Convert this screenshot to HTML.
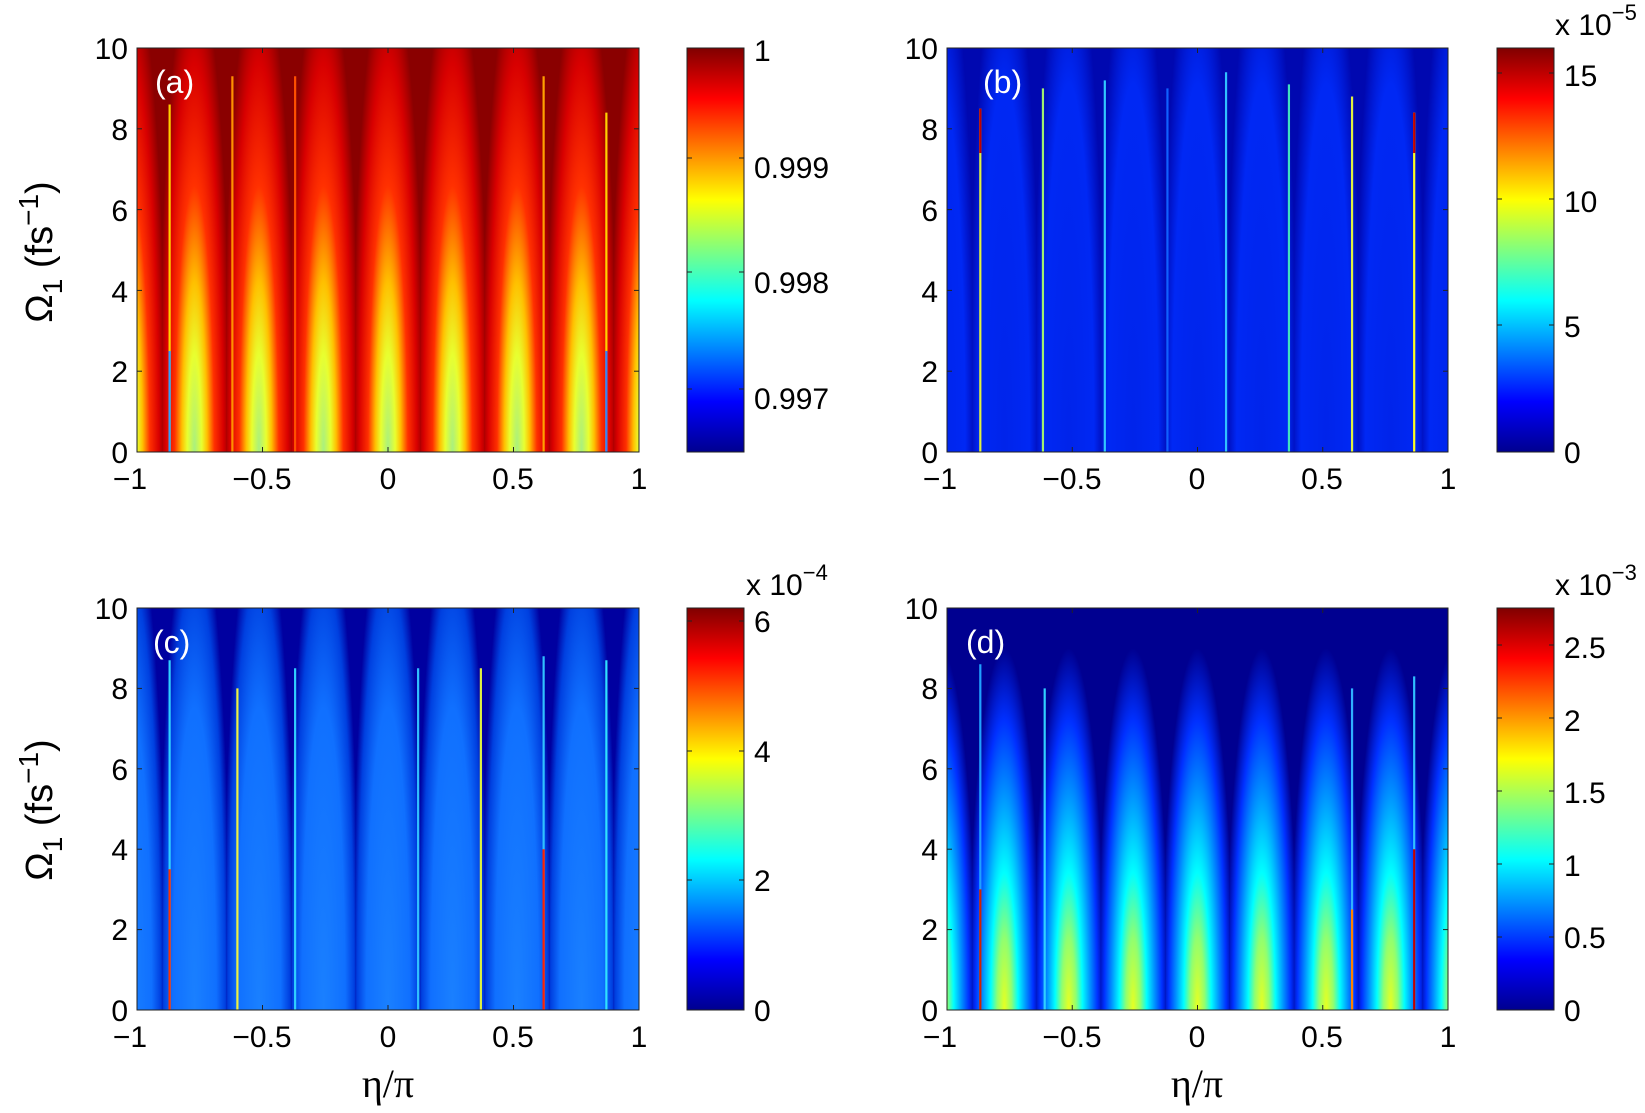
<!DOCTYPE html>
<html><head><meta charset="utf-8"><style>
html,body{margin:0;padding:0;background:#fff}
svg text{font-family:"Liberation Sans",sans-serif;fill:#000}
</style></head><body>
<svg id="s" xmlns="http://www.w3.org/2000/svg" width="1645" height="1108" viewBox="0 0 1645 1108">
<defs>
<linearGradient id="jet" x1="0" y1="1" x2="0" y2="0">
<stop offset="0" stop-color="#00008f"/><stop offset="0.125" stop-color="#0000ff"/>
<stop offset="0.375" stop-color="#00ffff"/><stop offset="0.625" stop-color="#ffff00"/>
<stop offset="0.875" stop-color="#ff0000"/><stop offset="1" stop-color="#800000"/>
</linearGradient>
<radialGradient id="ga" cx="0.5" cy="1" r="1" gradientTransform="translate(0.5,1) scale(0.56,1.2) translate(-0.5,-1)">
<stop offset="0" stop-color="#a8f080"/><stop offset="0.2" stop-color="#e8ff30"/><stop offset="0.35" stop-color="#ffc000"/>
<stop offset="0.55" stop-color="#ff3000"/><stop offset="0.8" stop-color="#d80000"/><stop offset="1" stop-color="#8a0000"/>
</radialGradient>
<radialGradient id="gb" cx="0.5" cy="1" r="1" gradientTransform="translate(0.5,1) scale(0.56,1.3) translate(-0.5,-1)">
<stop offset="0" stop-color="#0024ea"/><stop offset="0.7" stop-color="#0028f4"/><stop offset="1" stop-color="#0008b0"/>
</radialGradient>
<radialGradient id="gc" cx="0.5" cy="1" r="1" gradientTransform="translate(0.5,1) scale(0.56,1.25) translate(-0.5,-1)">
<stop offset="0" stop-color="#1a80ff"/><stop offset="0.6" stop-color="#1070ff"/><stop offset="0.85" stop-color="#0040e0"/><stop offset="1" stop-color="#0000a0"/>
</radialGradient>
<radialGradient id="gd" cx="0.5" cy="1" r="1" gradientTransform="translate(0.5,1) scale(0.56,0.9) translate(-0.5,-1)">
<stop offset="0" stop-color="#e8ff20"/><stop offset="0.2" stop-color="#90ff70"/><stop offset="0.38" stop-color="#00ffff"/>
<stop offset="0.6" stop-color="#0090ff"/><stop offset="0.8" stop-color="#0030ff"/><stop offset="1" stop-color="#000090"/>
</radialGradient>
<clipPath id="ca"><rect x="137" y="48" width="502" height="404"/></clipPath>
<clipPath id="cb"><rect x="947" y="48" width="501" height="404"/></clipPath>
<clipPath id="cc"><rect x="137" y="608" width="502" height="402"/></clipPath>
<clipPath id="cd"><rect x="947" y="608" width="501" height="402"/></clipPath>
</defs>
<g id="plots"></g>
<g font-size="30" text-anchor="end">
<text x="128" y="59">10</text><text x="128" y="140">8</text><text x="128" y="221">6</text><text x="128" y="302">4</text><text x="128" y="382">2</text><text x="128" y="463">0</text>
<text x="938" y="59">10</text><text x="938" y="140">8</text><text x="938" y="221">6</text><text x="938" y="302">4</text><text x="938" y="382">2</text><text x="938" y="463">0</text>
<text x="128" y="619">10</text><text x="128" y="699">8</text><text x="128" y="780">6</text><text x="128" y="860">4</text><text x="128" y="940">2</text><text x="128" y="1021">0</text>
<text x="938" y="619">10</text><text x="938" y="699">8</text><text x="938" y="780">6</text><text x="938" y="860">4</text><text x="938" y="940">2</text><text x="938" y="1021">0</text>
</g>
<g font-size="30" text-anchor="middle">
<text x="130" y="489">−1</text><text x="262" y="489">−0.5</text><text x="388" y="489">0</text><text x="513" y="489">0.5</text><text x="639" y="489">1</text>
<text x="940" y="489">−1</text><text x="1072" y="489">−0.5</text><text x="1197" y="489">0</text><text x="1322" y="489">0.5</text><text x="1448" y="489">1</text>
<text x="130" y="1047">−1</text><text x="262" y="1047">−0.5</text><text x="388" y="1047">0</text><text x="513" y="1047">0.5</text><text x="639" y="1047">1</text>
<text x="940" y="1047">−1</text><text x="1072" y="1047">−0.5</text><text x="1197" y="1047">0</text><text x="1322" y="1047">0.5</text><text x="1448" y="1047">1</text>
</g>
<g font-size="30">
<text x="754" y="61">1</text><text x="754" y="178">0.999</text><text x="754" y="293">0.998</text><text x="754" y="409">0.997</text>
<text x="1564" y="86">15</text><text x="1564" y="212">10</text><text x="1564" y="337">5</text><text x="1564" y="463">0</text>
<text x="754" y="632">6</text><text x="754" y="762">4</text><text x="754" y="891">2</text><text x="754" y="1021">0</text>
<text x="1564" y="658">2.5</text><text x="1564" y="731">2</text><text x="1564" y="803">1.5</text><text x="1564" y="876">1</text><text x="1564" y="948">0.5</text><text x="1564" y="1021">0</text>
<text x="1555" y="35">x 10<tspan font-size="22" dy="-15">−5</tspan></text>
<text x="746" y="595">x 10<tspan font-size="22" dy="-15">−4</tspan></text>
<text x="1555" y="595">x 10<tspan font-size="22" dy="-15">−3</tspan></text>
</g>
<g font-size="32">
<text x="155" y="93" style="fill:#fff">(a)</text><text x="983" y="93" style="fill:#fff">(b)</text>
<text x="153" y="653" style="fill:#fff">(c)</text><text x="966" y="653" style="fill:#fff">(d)</text>
</g>
<g font-size="38">
<text transform="translate(52,252) rotate(-90)" text-anchor="middle">Ω<tspan font-size="28" dy="10">1</tspan><tspan dy="-10"> (fs</tspan><tspan font-size="28" dy="-14">−1</tspan><tspan dy="14">)</tspan></text>
<text transform="translate(52,810) rotate(-90)" text-anchor="middle">Ω<tspan font-size="28" dy="10">1</tspan><tspan dy="-10"> (fs</tspan><tspan font-size="28" dy="-14">−1</tspan><tspan dy="14">)</tspan></text>
</g>
<g font-size="40" text-anchor="middle">
<text x="388" y="1097" style="font-family:'Liberation Serif',serif">η/π</text>
<text x="1197" y="1097" style="font-family:'Liberation Serif',serif">η/π</text>
</g>
</svg>
<script>
var NS="http://www.w3.org/2000/svg",G=document.getElementById("plots");
function el(t,a,p){var e=document.createElementNS(NS,t);for(var k in a)e.setAttribute(k,a[k]);(p||G).appendChild(e);return e;}
// line: [eta, color, top, segColor, segFrom, segTo]
var P=[
 {x0:137,x1:639,y0:48,y1:452,g:"ga",base:"#8a0000",clip:"ca",cb:687,
  lines:[[-0.87,"#ffd000",8.6,"#30a0ff",0,2.5],[-0.62,"#ff9000",9.3],[-0.37,"#ff5000",9.3],[0.62,"#ffa000",9.3],[0.87,"#ffd000",8.4,"#3080ff",0,2.5]],
  ticks:[[1,48],[0.999,158],[0.998,272],[0.997,389]]},
 {x0:947,x1:1448,y0:48,y1:452,g:"gb",base:"#0008b0",clip:"cb",cb:1497,
  lines:[[-0.867,"#e0f040",8.5,"#c00000",7.4,8.5],[-0.617,"#a0f070",9],[-0.37,"#30c8ff",9.2],[-0.12,"#1060ff",9],[0.114,"#30c0ff",9.4],[0.365,"#40e0c0",9.1],[0.617,"#e0f040",8.8],[0.865,"#ffff20",8.4,"#c00000",7.4,8.4]],
  ticks:[[15,73],[10,199],[5,325],[0,452]]},
 {x0:137,x1:639,y0:608,y1:1010,g:"gc",base:"#0000a0",clip:"cc",cb:687,
  lines:[[-0.87,"#30d0ff",8.7,"#ff3000",0,3.5],[-0.6,"#f0f040",8],[-0.37,"#30d0ff",8.5],[0.12,"#30c0ff",8.5],[0.37,"#e0f040",8.5],[0.62,"#30c0ff",8.8,"#ff2000",0,4],[0.87,"#30e0ff",8.7]],
  ticks:[[6,621],[4,751],[2,880],[0,1010]]},
 {x0:947,x1:1448,y0:608,y1:1010,g:"gd",base:"#000090",clip:"cd",cb:1497,
  lines:[[-0.867,"#20a0ff",8.6,"#d02000",0,3],[-0.61,"#30d0ff",8],[0.617,"#30b0ff",8,"#ff8000",0,2.5],[0.865,"#30c0ff",8.3,"#c00000",0,4]],
  ticks:[[2.5,645],[2,718],[1.5,791],[1,864],[0.5,937],[0,1010]]}
];
P.forEach(function(p){
 var w=p.x1-p.x0,h=p.y1-p.y0;
 var g=el("g",{"clip-path":"url(#"+p.clip+")"});
 el("rect",{x:p.x0,y:p.y0,width:w,height:h,fill:p.base},g);
 var per=0.257;
 for(var k=-4;k<=4;k++){
  var c=k*per, lx=p.x0+(c-per/2+1)/2*w, lw=per/2*w;
  el("rect",{x:lx,y:p.y0,width:lw,height:h,fill:"url(#"+p.g+")"},g);
 }
 p.lines.forEach(function(L){
  var x=p.x0+(L[0]+1)/2*w, yt=p.y1-L[2]/10*h;
  el("line",{x1:x,x2:x,y1:p.y1,y2:yt,stroke:L[1],"stroke-width":2.2},g);
  if(L[3]){el("line",{x1:x,x2:x,y1:p.y1-L[4]/10*h,y2:p.y1-L[5]/10*h,stroke:L[3],"stroke-width":2.2},g);}
 });
 el("rect",{x:p.x0,y:p.y0,width:w,height:h,fill:"none",stroke:"#222","stroke-width":1});
 for(var i=0;i<=10;i+=2){var y=p.y1-i/10*h;el("line",{x1:p.x0,x2:p.x0+5,y1:y,y2:y,stroke:"#222"});el("line",{x1:p.x1,x2:p.x1-5,y1:y,y2:y,stroke:"#222"});}
 for(var j=-1;j<=1;j+=0.5){var x=p.x0+(j+1)/2*w;el("line",{x1:x,x2:x,y1:p.y1,y2:p.y1-5,stroke:"#222"});el("line",{x1:x,x2:x,y1:p.y0,y2:p.y0+5,stroke:"#222"});}
 el("rect",{x:p.cb,y:p.y0,width:57,height:h,fill:"url(#jet)",stroke:"#222","stroke-width":1});
 p.ticks.forEach(function(t){el("line",{x1:p.cb,x2:p.cb+5,y1:t[1],y2:t[1],stroke:"#222"});el("line",{x1:p.cb+57,x2:p.cb+52,y1:t[1],y2:t[1],stroke:"#222"});});
});
</script>
</body></html>
